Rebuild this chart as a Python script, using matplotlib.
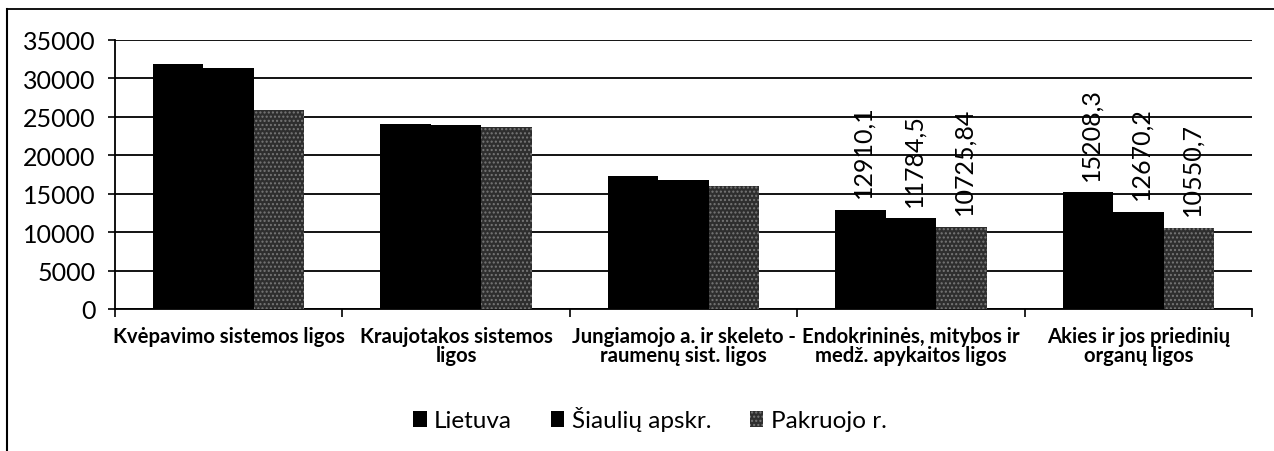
import numpy as np
import matplotlib
matplotlib.use("Agg")
import matplotlib.pyplot as plt
from matplotlib.lines import Line2D

plt.rcParams['font.family'] = ['Lato', 'DejaVu Sans']

categories = ["Kvėpavimo sistemos ligos", "Kraujotakos sistemos\nligos",
              "Jungiamojo a. ir skeleto -\nraumenų sist. ligos",
              "Endokrininės, mitybos ir\nmedž. apykaitos ligos",
              "Akies ir jos priedinių\norganų ligos"]
series_names = ["Lietuva", "Šiaulių apskr.", "Pakruojo r."]
lietuva = [31900, 24030, 17300, 12910.1, 15208.3]
siauliu = [31350, 23940, 16750, 11784.5, 12670.2]
pakruojo = [25930, 23640, 15960, 10725.84, 10550.7]
labelled = [3, 4]  # categories whose values are printed

fig = plt.figure(figsize=(12.74, 4.52), dpi=100)
ax = fig.add_axes([115/1274, 1-310/452, (1252-115)/1274, (310-41)/452])

x = np.arange(len(categories))
w = 0.222
styles = [dict(color='black'), dict(color='black'),
          dict(facecolor='#2e2e2e', edgecolor='#777777', hatch='....', linewidth=0)]
for i, (vals, name, st) in enumerate(zip([lietuva, siauliu, pakruojo], series_names, styles)):
    ax.bar(x + (i-1)*w, vals, w, label=name, zorder=3, **st)
    for j in labelled:
        ax.annotate(str(vals[j]).replace('.', ','), (x[j] + (i-1)*w, vals[j]),
                    xytext=(2, 9), textcoords='offset points',
                    rotation=90, ha='center', va='bottom', fontsize=18, zorder=4)

ax.set_ylim(0, 35000)
ax.set_xlim(-0.5, len(categories)-0.5)
ax.set_yticks(np.arange(0, 35001, 5000))
ax.yaxis.grid(True, color='black', linewidth=1.3, zorder=0)
ax.tick_params(axis='y', labelsize=18, length=5, width=1.2, direction='out', pad=9)
ax.set_xticks(x)
ax.set_xticklabels(categories, fontsize=14.6, fontweight='bold')
for lbl in ax.get_xticklabels():
    lbl.set_linespacing(0.95)
ax.set_xticks(np.arange(-0.5, len(categories)), minor=True)
ax.tick_params(axis='x', which='major', length=0, pad=12)
ax.tick_params(axis='x', which='minor', length=6, width=1.2, direction='out')
for s in ['top', 'right']:
    ax.spines[s].set_visible(False)
for s in ['left', 'bottom']:
    ax.spines[s].set_linewidth(1.3)

ax.legend(loc='center', bbox_to_anchor=(650/1274, 1-420/452), bbox_transform=fig.transFigure,
          ncol=3, frameon=False, fontsize=17.5, handlelength=0.55, handleheight=0.65,
          handletextpad=0.3, columnspacing=1.6)

fig.add_artist(Line2D([7/1274, 1], [1-10/452, 1-10/452], color='black', linewidth=1.3,
                      transform=fig.transFigure))
fig.add_artist(Line2D([7/1274, 7/1274], [0, 1-10/452], color='black', linewidth=1.5,
                      transform=fig.transFigure))

fig.savefig("out.png", dpi=100, facecolor='white')
